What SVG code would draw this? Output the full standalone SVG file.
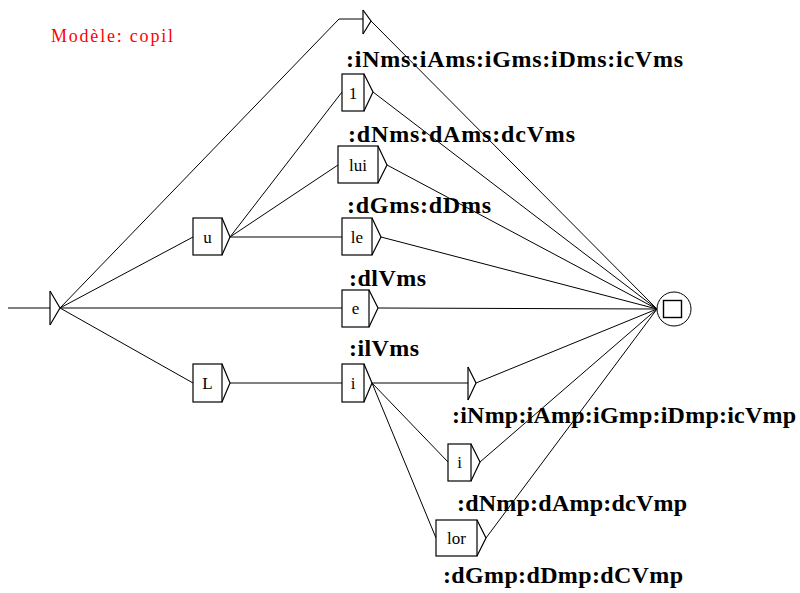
<svg xmlns="http://www.w3.org/2000/svg" width="800" height="593" viewBox="0 0 800 593">
<style>
.ln{stroke:#000;stroke-width:1;fill:none}
.bx{stroke:#000;stroke-width:1.2;fill:#fff}
.tri{stroke:#000;stroke-width:1.2;fill:none}
.bt{font-family:"Liberation Serif",serif;font-size:17px;text-anchor:middle;fill:#000}
.lb{font-family:"Liberation Serif",serif;font-size:24px;font-weight:bold;fill:#000}
.title{font-family:"Liberation Serif",serif;font-size:18px;fill:#ff0000}
</style>
<rect width="800" height="593" fill="#fff"/>
<text class="title" x="51" y="42" textLength="122" lengthAdjust="spacing">Modèle: copil</text>
<g id="connectors">
<line class="ln" x1="8" y1="308" x2="50" y2="308"/>
<polyline class="ln" points="60,308 339,19 363,19"/>
<line class="ln" x1="60" y1="308" x2="193" y2="237"/>
<line class="ln" x1="60" y1="308" x2="342" y2="308"/>
<line class="ln" x1="60" y1="308" x2="193" y2="383"/>
<line class="ln" x1="230" y1="237" x2="342" y2="92"/>
<line class="ln" x1="230" y1="237" x2="338" y2="165"/>
<line class="ln" x1="230" y1="237" x2="342" y2="237"/>
<line class="ln" x1="230" y1="383" x2="342" y2="383"/>
<line class="ln" x1="372" y1="383" x2="468" y2="383"/>
<line class="ln" x1="372" y1="383" x2="448" y2="462"/>
<line class="ln" x1="372" y1="383" x2="436" y2="538"/>
<line class="ln" x1="371" y1="21" x2="657" y2="309"/>
<line class="ln" x1="373" y1="92" x2="657" y2="309"/>
<line class="ln" x1="387" y1="165" x2="657" y2="309"/>
<line class="ln" x1="381" y1="237" x2="657" y2="309"/>
<line class="ln" x1="378" y1="308" x2="657" y2="309"/>
<line class="ln" x1="476" y1="383" x2="657" y2="309"/>
<line class="ln" x1="480" y1="462" x2="657" y2="309"/>
<line class="ln" x1="486" y1="538" x2="657" y2="309"/>
</g>
<g id="init">
<line class="tri" x1="50" y1="291" x2="50" y2="325"/>
<polyline class="tri" points="50,291 60,308 50,325"/>
</g>
<g id="empty1">
<line class="tri" x1="363" y1="10" x2="363" y2="34" stroke-width="1.6"/>
<polyline class="tri" points="363,10 371,21 363,34"/>
</g>
<g id="n-u">
<rect class="bx" x="193" y="218" width="29" height="37"/>
<polyline class="tri" points="222,218 230,237 222,255"/>
<text class="bt" x="207.5" y="243">u</text>
</g>
<g id="n-1">
<rect class="bx" x="342" y="74" width="22" height="37"/>
<polyline class="tri" points="364,74 373,92 364,111"/>
<text class="bt" x="353" y="99">1</text>
<text class="lb" x="346" y="67" textLength="337" lengthAdjust="spacing">:iNms:iAms:iGms:iDms:icVms</text>
</g>
<g id="n-lui">
<rect class="bx" x="338" y="146" width="40" height="37"/>
<polyline class="tri" points="378,146 387,165 378,183"/>
<text class="bt" x="358" y="171">lui</text>
<text class="lb" x="348" y="142" textLength="227" lengthAdjust="spacing">:dNms:dAms:dcVms</text>
</g>
<g id="n-le">
<rect class="bx" x="342" y="218" width="30" height="37"/>
<polyline class="tri" points="372,218 381,237 372,255"/>
<text class="bt" x="357" y="243">le</text>
<text class="lb" x="347" y="213" textLength="144" lengthAdjust="spacing">:dGms:dDms</text>
</g>
<g id="n-e">
<rect class="bx" x="342" y="290" width="27" height="37"/>
<polyline class="tri" points="369,290 378,308 369,327"/>
<text class="bt" x="355.5" y="314">e</text>
<text class="lb" x="349" y="286" textLength="77" lengthAdjust="spacing">:dlVms</text>
</g>
<g id="n-L">
<rect class="bx" x="193" y="364" width="29" height="38"/>
<polyline class="tri" points="222,364 230,383 222,402"/>
<text class="bt" x="207.5" y="389">L</text>
</g>
<g id="n-i1">
<rect class="bx" x="342" y="364" width="22" height="38"/>
<polyline class="tri" points="364,364 372,383 364,402"/>
<text class="bt" x="353" y="389">i</text>
<text class="lb" x="349" y="356" textLength="70" lengthAdjust="spacing">:ilVms</text>
</g>
<g id="empty2">
<line class="tri" x1="468" y1="367" x2="468" y2="400" stroke-width="1.6"/>
<polyline class="tri" points="468,367 476,383 468,400"/>
</g>
<g id="n-i2">
<rect class="bx" x="448" y="444" width="23" height="37"/>
<polyline class="tri" points="471,444 480,462 471,481"/>
<text class="bt" x="459.5" y="468">i</text>
<text class="lb" x="452" y="423" textLength="344" lengthAdjust="spacing">:iNmp:iAmp:iGmp:iDmp:icVmp</text>
</g>
<g id="n-lor">
<rect class="bx" x="436" y="520" width="41" height="36"/>
<polyline class="tri" points="477,520 486,538 477,556"/>
<text class="bt" x="456.5" y="544">lor</text>
<text class="lb" x="457" y="511" textLength="230" lengthAdjust="spacing">:dNmp:dAmp:dcVmp</text>
<text class="lb" x="443" y="583" textLength="240" lengthAdjust="spacing">:dGmp:dDmp:dCVmp</text>
</g>
<g id="final">
<circle cx="674" cy="309" r="17" fill="#fff" stroke="#000" stroke-width="1"/>
<rect x="663.5" y="300.5" width="18" height="17" fill="none" stroke="#000" stroke-width="1.4"/>
</g>
</svg>
